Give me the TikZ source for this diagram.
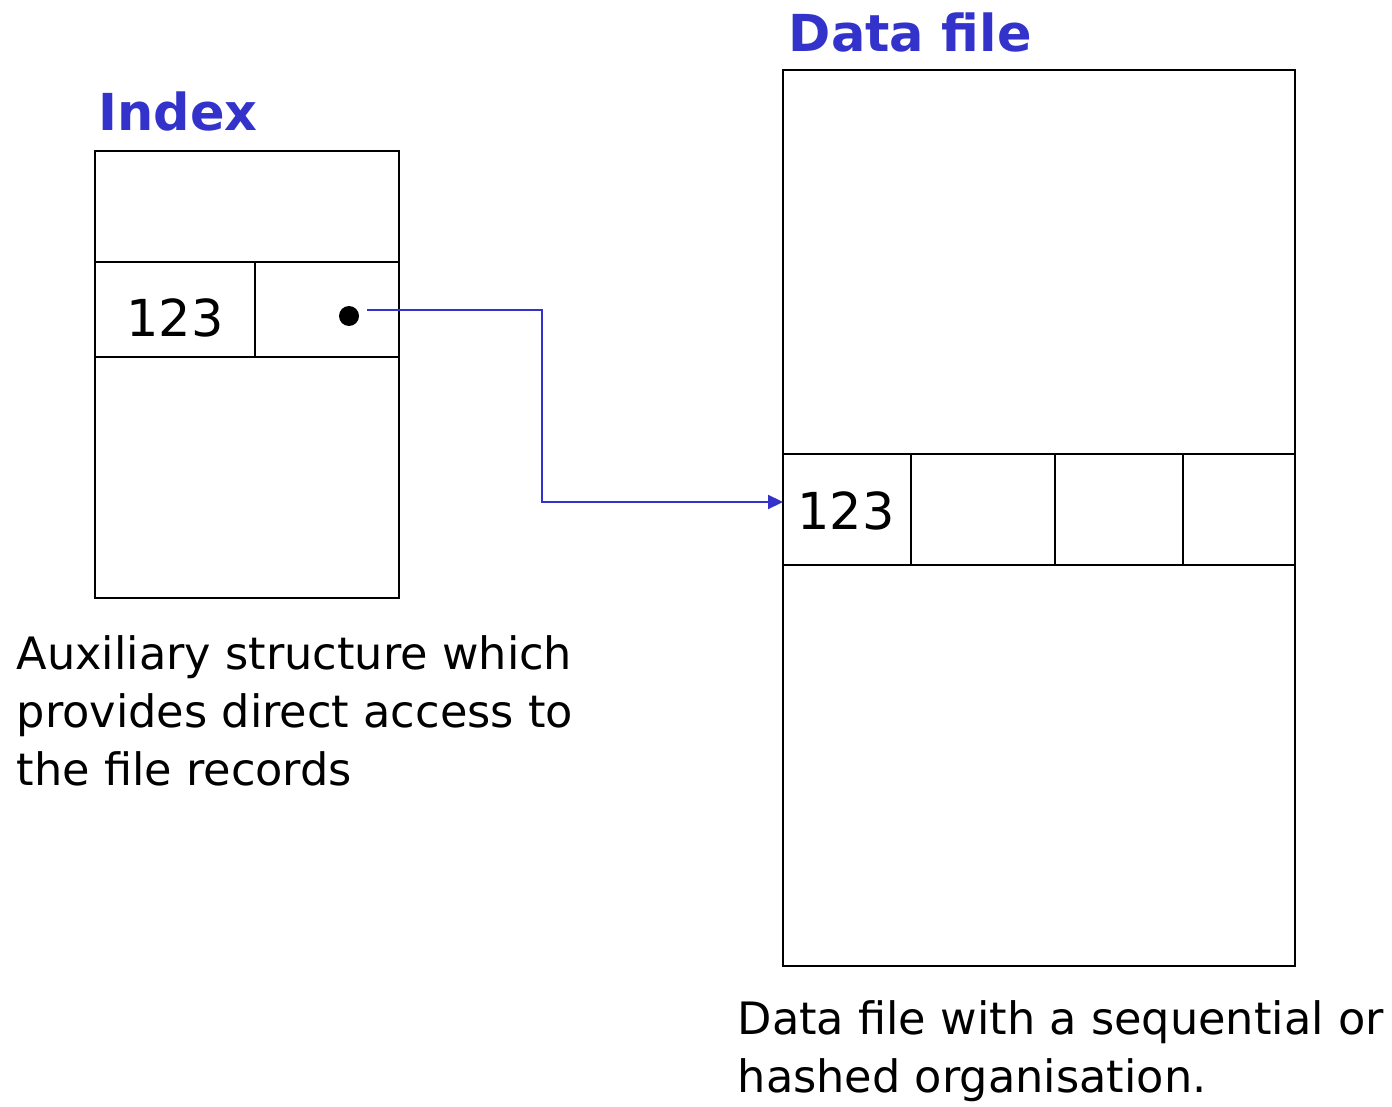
\documentclass[tikz,border=0pt]{standalone}
\usepackage{fontspec}
\setmainfont{DejaVu Sans}
\usetikzlibrary{arrows.meta}
\definecolor{headblue}{RGB}{51,51,204}
\tikzset{
  cell/.style={draw,line width=0.6pt,inner sep=0pt,minimum height=#1},
  title/.style={text=headblue,font=\fontsize{14.5}{18}\selectfont\bfseries,anchor=west,inner sep=0pt},
  note/.style={font=\fontsize{12.7}{16.5}\selectfont,align=left,anchor=north west,inner sep=0pt},
  num/.style={font=\fontsize{14.5}{18}\selectfont}
}
\begin{document}
\begin{tikzpicture}
  \useasboundingbox (0,0) rectangle (13.92,-11.06);
  % Index
  \node[title] (IT) at (0.98,-1.12) {Index};
  \node[cell=4.47cm,minimum width=3.04cm] (I) at (2.47,-3.745) {};
  \node[cell=0.95cm,minimum width=1.60cm,num] (Ikey) at (1.75,-3.095) {};
  \node[num] (Inum) at (1.75,-3.18) {123};
  \node[cell=0.95cm,minimum width=1.44cm] (Iptr) at (3.27,-3.095) {};
  \node[circle,fill,inner sep=0pt,minimum size=0.2cm] (dot) at (3.49,-3.16) {};
  % Data file
  \node[title] (DT) at (7.88,-0.33) {Data file};
  \node[cell=8.96cm,minimum width=5.12cm] (D) at (10.39,-5.18) {};
  \foreach \x/\w/\n in {8.47/1.28/1,9.83/1.44/2,11.19/1.28/3,12.39/1.12/4}
    \node[cell=1.11cm,minimum width=\w cm] (D\n) at (\x,-5.095) {};
  \node[num] (Dnum) at (8.46,-5.11) {123};
  % Pointer
  \coordinate (start) at (3.67,-3.10);
  \coordinate (bend) at (5.42,-3.10);
  \coordinate (hit) at (7.83,-5.02);
  \draw[headblue,line width=0.6pt,-{Triangle[length=1.5mm,width=1.4mm]}]
    (start) -- (bend) |- (hit);
  % Notes
  \node[note] (IN) at (0.16,-6.35) {Auxiliary structure which\\provides direct access to\\the file records};
  \node[note] (DN) at (7.37,-10.00) {Data file with a sequential or\\hashed organisation.};
\end{tikzpicture}
\end{document}
